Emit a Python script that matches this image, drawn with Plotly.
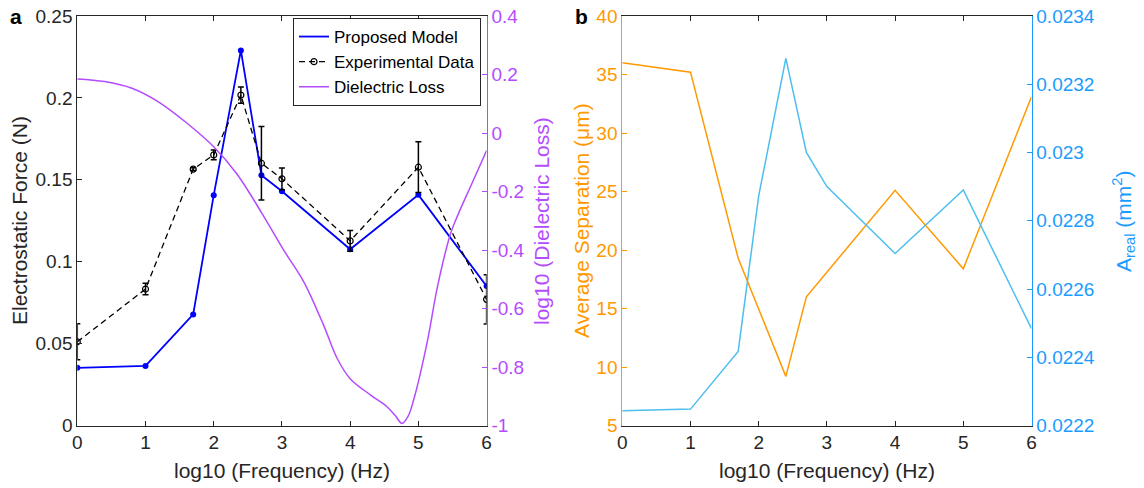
import plotly.graph_objects as go

W, H = 1144, 488

# ---------------- data ----------------
log_freq = [0, 1, 1.699, 2, 2.398, 2.699, 3, 4, 5, 6]
model_force = [0.0352, 0.0364, 0.0678, 0.1406, 0.2290, 0.1528, 0.1430, 0.1076, 0.1408, 0.0851]
exp_force = [0.0511, 0.0833, 0.1565, 0.1652, 0.2017, 0.1601, 0.1506, 0.1127, 0.1577, 0.0770]
exp_err = [0.0110, 0.0035, 0.0008, 0.0030, 0.0050, 0.0224, 0.0066, 0.0063, 0.0155, 0.0150]

loss_x = [0, 0.4, 0.8, 1.2, 1.6, 2.0, 2.34, 2.7, 3.03, 3.32, 3.61, 3.81, 4.0,
          4.3, 4.54, 4.66, 4.76, 4.85, 4.93, 5.13, 5.28, 5.47, 5.57, 5.78, 6.0]
loss_y = [0.185, 0.176, 0.153, 0.105, 0.035, -0.047, -0.140, -0.272, -0.402, -0.509,
          -0.657, -0.771, -0.840, -0.896, -0.936, -0.966, -0.993, -0.968, -0.913, -0.714,
          -0.525, -0.345, -0.285, -0.175, -0.060]

avg_sep = [36.0, 35.2, 19.3, 15.0, 9.2, 16.0, 18.1, 25.1, 18.4, 33.1]
a_real = [0.022243, 0.022248, 0.022417, 0.022873, 0.023276, 0.023000, 0.022900,
          0.022704, 0.022890, 0.022484]

x_ticks = [0, 1, 2, 3, 4, 5, 6]
force_ticks = [0, 0.05, 0.1, 0.15, 0.2, 0.25]
force_ticktext = ["0", "0.05", "0.1", "0.15", "0.2", "0.25"]
loss_ticks = [-1, -0.8, -0.6, -0.4, -0.2, 0, 0.2, 0.4]
loss_ticktext = ["-1", "-0.8", "-0.6", "-0.4", "-0.2", "0", "0.2", "0.4"]
sep_ticks = [5, 10, 15, 20, 25, 30, 35, 40]
area_ticks = [0.0222, 0.0224, 0.0226, 0.0228, 0.0230, 0.0232, 0.0234]
area_ticktext = ["0.0222", "0.0224", "0.0226", "0.0228", "0.023", "0.0232", "0.0234"]

# ---------------- style ----------------
FONT = "Liberation Sans, Arial, Helvetica, sans-serif"
DARK = "#262626"
BLUE = "#0000FF"
PURPLE = "#B44BFF"
ORANGE = "#FF9900"
CYAN_LINE = "#4DBEEE"
CYAN_AXIS = "#1A9BFF"
TICK = 19
TITLE = 21


def px_x(x):
    return x / W


def px_y(y):
    return 1 - y / H


xL = [px_x(77.3), px_x(486.6)]
xR = [px_x(622.3), px_x(1031.5)]
yD = [px_y(425.5), px_y(16.0)]

fig = go.Figure()

fig.add_trace(go.Scatter(
    x=log_freq, y=model_force, name="Proposed Model", mode="lines",
    line=dict(color=BLUE, width=1.8), legendrank=1,
    xaxis="x", yaxis="y"))
fig.add_trace(go.Scatter(
    x=log_freq, y=model_force, name="Proposed Model", mode="markers",
    marker=dict(color=BLUE, size=6), showlegend=False,
    xaxis="x", yaxis="y"))
fig.add_trace(go.Scatter(
    x=log_freq, y=exp_force, name="Experimental Data", mode="lines+markers",
    line=dict(color="black", width=1.3, dash="6px,4px"),
    marker=dict(symbol="circle-open", color="black", size=6, line=dict(width=1.2)),
    error_y=dict(type="data", array=exp_err, color="black", thickness=1.5, width=3),
    legendrank=2, xaxis="x", yaxis="y"))
fig.add_trace(go.Scatter(
    x=loss_x, y=loss_y, name="Dielectric Loss", mode="lines",
    line=dict(color=PURPLE, width=1.5, shape="spline", smoothing=1.0),
    legendrank=3, xaxis="x", yaxis="y2"))

fig.add_trace(go.Scatter(
    x=log_freq, y=avg_sep, name="Average Separation", mode="lines",
    line=dict(color=ORANGE, width=1.5), showlegend=False,
    xaxis="x2", yaxis="y3"))
fig.add_trace(go.Scatter(
    x=log_freq, y=a_real, name="A_real", mode="lines",
    line=dict(color=CYAN_LINE, width=1.5), showlegend=False,
    xaxis="x2", yaxis="y4"))

common_x = dict(range=[0, 6], tickvals=x_ticks, ticks="inside", ticklen=5, tickcolor=DARK,
                showline=True, linecolor=DARK, linewidth=1, mirror="ticks",
                showgrid=False, zeroline=False, automargin=False,
                tickfont=dict(size=TICK, color=DARK, family=FONT))


def yax(color, rng, vals, text, side, **kw):
    d = dict(range=rng, tickvals=vals, ticktext=text, ticks="inside", ticklen=5,
             tickcolor=color, showline=True, linecolor=color, linewidth=1,
             showgrid=False, zeroline=False, automargin=False, side=side,
             tickfont=dict(size=TICK, color=color, family=FONT))
    d.update(kw)
    return d


fig.update_layout(
    width=W, height=H, margin=dict(l=0, r=0, t=0, b=0),
    paper_bgcolor="white", plot_bgcolor="white",
    font=dict(family=FONT, color=DARK),
    xaxis=dict(domain=xL, anchor="y", **common_x),
    xaxis2=dict(domain=xR, anchor="y3", **common_x),
    yaxis=yax(DARK, [0, 0.25], force_ticks, force_ticktext, "left", domain=yD, anchor="x"),
    yaxis2=yax(PURPLE, [-1, 0.4], loss_ticks, loss_ticktext, "right", overlaying="y", anchor="x"),
    yaxis3=yax(ORANGE, [5, 40], sep_ticks, [str(v) for v in sep_ticks], "left", domain=yD, anchor="x2"),
    yaxis4=yax(CYAN_AXIS, [0.0222, 0.0234], area_ticks, area_ticktext, "right", overlaying="y3", anchor="x2"),
    legend=dict(x=px_x(481), xanchor="right", y=px_y(18), yanchor="top",
                bgcolor="white", bordercolor=DARK, borderwidth=1,
                font=dict(size=17, color="black", family=FONT),
                itemwidth=30, tracegroupgap=0),
    showlegend=True,
)

ann = [
    dict(text="log10 (Frequency) (Hz)", x=px_x(282), y=px_y(470), textangle=0,
         font=dict(size=TITLE, color=DARK)),
    dict(text="log10 (Frequency) (Hz)", x=px_x(827), y=px_y(470), textangle=0,
         font=dict(size=TITLE, color=DARK)),
    dict(text="Electrostatic Force (N)", x=px_x(20), y=px_y(221), textangle=-90,
         font=dict(size=TITLE, color=DARK)),
    dict(text="log10 (Dielectric Loss)", x=px_x(542), y=px_y(221), textangle=-90,
         font=dict(size=TITLE, color=PURPLE)),
    dict(text="Average Separation (\u03bcm)", x=px_x(582), y=px_y(221), textangle=-90,
         font=dict(size=TITLE, color=ORANGE)),
    dict(text="A<sub>real</sub> (mm<sup>2</sup>)", x=px_x(1124), y=px_y(221), textangle=-90,
         font=dict(size=TITLE, color=CYAN_AXIS)),
    dict(text="<b>a</b>", x=px_x(16), y=px_y(16), textangle=0,
         font=dict(size=21, color="black")),
    dict(text="<b>b</b>", x=px_x(581), y=px_y(16), textangle=0,
         font=dict(size=21, color="black")),
]
for a in ann:
    a.update(xref="paper", yref="paper", showarrow=False, xanchor="center", yanchor="middle")
    a["font"]["family"] = FONT
fig.update_layout(annotations=ann)

fig.write_html("out.html", config={"displayModeBar": False},
               post_script="document.body.style.margin='0px';")
